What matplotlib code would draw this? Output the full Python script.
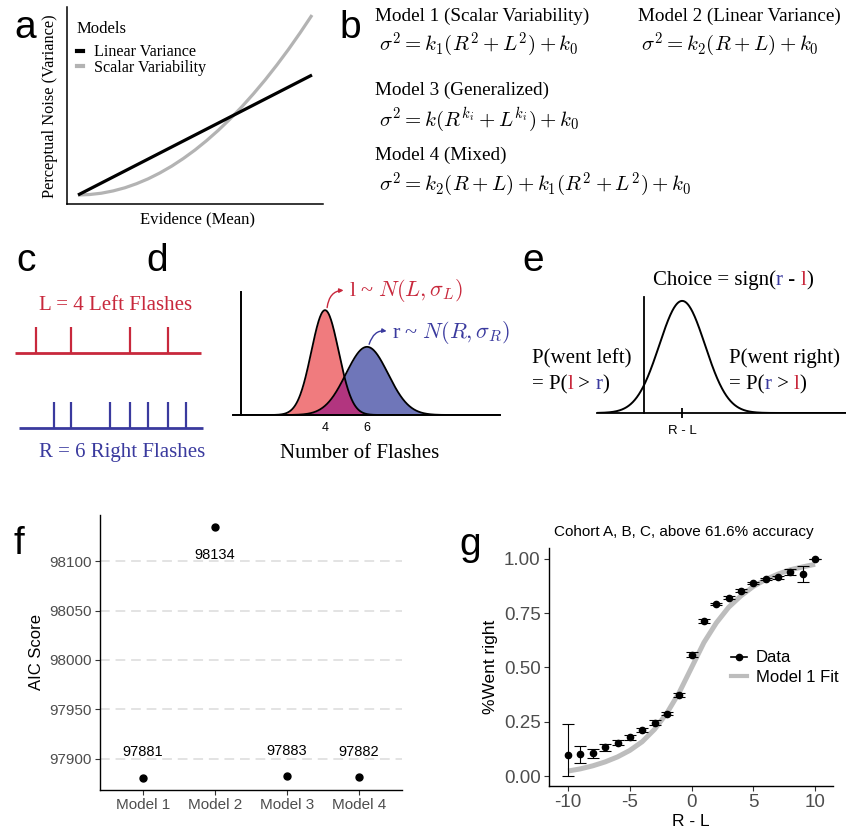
import numpy as np
import matplotlib.pyplot as plt
from matplotlib.lines import Line2D

plt.rcParams['mathtext.fontset'] = 'cm'
plt.rcParams['axes.unicode_minus'] = False
SERIF = 'Liberation Serif'
SANS = 'Liberation Sans'
RED = '#c8283c'
BLUE = '#3a3a9e'
GREY30 = '#4d4d4d'

W, H = 846, 832

# a - noise vs evidence (schematic)
evidence = [0.0, 0.05, 0.1, 0.15, 0.2, 0.25, 0.3, 0.35, 0.4, 0.45, 0.5,
            0.55, 0.6, 0.65, 0.7, 0.75, 0.8, 0.85, 0.9, 0.95, 1.0]
linear_variance = [0.0, 0.05, 0.1, 0.15, 0.2, 0.25, 0.3, 0.35, 0.4, 0.45, 0.5,
                   0.55, 0.6, 0.65, 0.7, 0.75, 0.8, 0.85, 0.9, 0.95, 1.0]
scalar_variability = [0.0, 0.004, 0.015, 0.034, 0.06, 0.094, 0.135, 0.184, 0.24, 0.304, 0.375,
                      0.454, 0.54, 0.634, 0.735, 0.844, 0.96, 1.084, 1.215, 1.354, 1.5]

# b - model equations
model_titles = ["Model 1 (Scalar Variability)", "Model 2 (Linear Variance)",
                "Model 3 (Generalized)", "Model 4 (Mixed)"]
model_formulas = [r"$\sigma^2 = k_1(R^2 + L^2) + k_0$",
                  r"$\sigma^2 = k_2(R + L) + k_0$",
                  r"$\sigma^2 = k(R^{k_i} + L^{k_i}) + k_0$",
                  r"$\sigma^2 = k_2(R + L) + k_1(R^2 + L^2) + k_0$"]

# c - flash trains (s)
left_flash_times = [0.11, 0.30, 0.615, 0.82]
right_flash_times = [0.21, 0.30, 0.51, 0.615, 0.71, 0.82, 0.915]

# d - perceived counts
flash_means = [4, 6]      # L, R
flash_sds = [0.65, 1.0]

# e - difference
diff_mean = 2
diff_sd = 1.2

# f - AIC
models = ["Model 1", "Model 2", "Model 3", "Model 4"]
aic = [97881, 98134, 97883, 97882]

# g - psychometric
r_minus_l = list(range(-10, 11))
went_right = [0.097, 0.100, 0.104, 0.132, 0.154, 0.178, 0.212, 0.246, 0.287, 0.373, 0.558,
              0.714, 0.793, 0.820, 0.854, 0.888, 0.908, 0.915, 0.939, 0.931, 1.000]
err_low = [0.097, 0.040, 0.021, 0.015, 0.011, 0.010, 0.010, 0.011, 0.008, 0.008, 0.012,
           0.008, 0.006, 0.007, 0.006, 0.006, 0.006, 0.008, 0.012, 0.038, 0.0]
err_high = [0.143, 0.040, 0.021, 0.015, 0.011, 0.010, 0.010, 0.011, 0.008, 0.008, 0.012,
            0.008, 0.006, 0.007, 0.006, 0.006, 0.006, 0.008, 0.012, 0.037, 0.0]
model1_fit = [0.023, 0.033, 0.047, 0.065, 0.088, 0.118, 0.158, 0.215, 0.29, 0.385, 0.5,
              0.615, 0.705, 0.777, 0.83, 0.873, 0.905, 0.93, 0.95, 0.963, 0.975]


def box(l, t, r, b):
    return [l / W, 1 - b / H, (r - l) / W, (b - t) / H]


fig = plt.figure(figsize=(W / 100, H / 100), dpi=100)
ax0 = fig.add_axes([0, 0, 1, 1])
ax0.set_xlim(0, W)
ax0.set_ylim(H, 0)
ax0.axis('off')
ax0.set_zorder(10)


def rainbow(x, y, parts, **kw):
    t = ax0.text(x, y, parts[0][0], color=parts[0][1], va='bottom', ha='left', **kw)
    for s, c in parts[1:]:
        t = ax0.annotate(s, xy=(1, 0), xycoords=t, va='bottom', ha='left', color=c, **kw)


# panel letters
for lab, x, y in [('a', 25, 38), ('b', 350, 38), ('c', 26, 271), ('d', 157, 271),
                  ('e', 533, 271), ('f', 19, 554), ('g', 470, 555)]:
    ax0.text(x, y, lab, ha='center', va='baseline', fontsize=28, family=SANS)

# ---- a
ax_a = fig.add_axes(box(67, 7, 323, 204))
ax_a.plot(evidence, scalar_variability, color='#b3b3b3', lw=2.3, solid_capstyle='butt')
ax_a.plot(evidence, linear_variance, color='black', lw=2.3, solid_capstyle='butt')
ax_a.set_xlim(-0.047, 1.047)
ax_a.set_ylim(-0.075, 1.567)
ax_a.set_xticks([])
ax_a.set_yticks([])
for s in ['top', 'right']:
    ax_a.spines[s].set_visible(False)
for s in ['left', 'bottom']:
    ax_a.spines[s].set_linewidth(1.1)
ax0.text(77, 33, 'Models', family=SERIF, fontsize=12, va='baseline')
ax_a.legend([Line2D([], [], color='black', lw=3), Line2D([], [], color='#b3b3b3', lw=3)],
            ['Linear Variance', 'Scalar Variability'],
            loc='upper left', bbox_to_anchor=(0.04, 0.81), frameon=False,
            handlelength=0.35, handletextpad=0.7, labelspacing=-0.05,
            borderpad=0, borderaxespad=0,
            prop={'family': SERIF, 'size': 11.6})
ax0.text(197, 219, 'Evidence (Mean)', ha='center', va='center', family=SERIF, fontsize=12)
ax0.text(50, 106, 'Perceptual Noise (Variance)', ha='center', va='center', rotation=90,
         family=SERIF, fontsize=11.8)

# ---- b
b_pos = [(375, 21, 379, 51), (638, 21, 641, 51), (375, 95, 379, 126), (375, 160, 379, 191)]
for title, formula, (tx, ty, fx, fy) in zip(model_titles, model_formulas, b_pos):
    ax0.text(tx, ty, title, family=SERIF, fontsize=13.8, va='baseline')
    ax0.text(fx, fy, formula, fontsize=15, va='baseline')

# ---- c
ax_c = fig.add_axes(box(0, 290, 230, 470))
ax_c.axis('off')
ax_c.set_xlim(-15 / 187, 215 / 187)
ax_c.set_ylim(-0.56, 1.84)
ax_c.hlines(1, 0, 0.995, color=RED, lw=2)
ax_c.vlines(left_flash_times, 1, 1.35, color=RED, lw=1.6)
ax_c.hlines(0, 0.02, 1.005, color=BLUE, lw=2)
ax_c.vlines(right_flash_times, 0, 0.35, color=BLUE, lw=1.6)
ax0.text(39, 305, 'L = 4 Left Flashes', color=RED, family=SERIF, fontsize=15, va='center')
ax0.text(39, 453, 'R = 6 Right Flashes', color=BLUE, family=SERIF, fontsize=15, va='center')

# ---- d
ax_d = fig.add_axes(box(233, 292, 500, 415))
xs = np.linspace(-0.38, 12.33, 600)
pdf_l = np.exp(-0.5 * ((xs - flash_means[0]) / flash_sds[0]) ** 2) / (flash_sds[0] * np.sqrt(2 * np.pi))
pdf_r = np.exp(-0.5 * ((xs - flash_means[1]) / flash_sds[1]) ** 2) / (flash_sds[1] * np.sqrt(2 * np.pi))
ax_d.fill_between(xs, 0, pdf_r, color='#6f76b9', lw=0)
ax_d.fill_between(xs, 0, pdf_l, color='#f07b7e', lw=0)
ax_d.fill_between(xs, 0, np.minimum(pdf_l, pdf_r), color='#b2357f', lw=0)
ax_d.plot(xs, pdf_r, color='black', lw=1.3)
ax_d.plot(xs, pdf_l, color='black', lw=1.3)
ax_d.set_xlim(-0.38, 12.33)
ax_d.set_ylim(0, 0.72)
ax_d.spines['left'].set_position(('data', 0))
for s in ['top', 'right']:
    ax_d.spines[s].set_visible(False)
for s in ['left', 'bottom']:
    ax_d.spines[s].set_linewidth(1.4)
ax_d.set_yticks([])
ax_d.set_xticks(flash_means)
ax_d.tick_params(axis='x', length=0, pad=5, labelsize=9)
for lbl in ax_d.get_xticklabels():
    lbl.set_family(SANS)
d_labels = [(r"l ~ $N(L,\sigma_L)$", RED, (22, 17)), (r"r ~ $N(R,\sigma_R)$", BLUE, (23, 12))]
for (txt, col, off), m, sd in zip(d_labels, flash_means, flash_sds):
    peak = 1 / (sd * np.sqrt(2 * np.pi))
    ax_d.annotate(txt, xy=(m + 0.1, peak + 0.015), xytext=off, textcoords='offset pixels',
                  ha='left', va='center', color=col, family=SERIF, fontsize=16,
                  annotation_clip=False,
                  arrowprops=dict(arrowstyle='<|-', color=col, lw=1, mutation_scale=6,
                                  shrinkA=2, shrinkB=0, relpos=(0, 0.5),
                                  connectionstyle='arc3,rad=0.5'))
ax0.text(360, 453, 'Number of Flashes', ha='center', va='center', family=SERIF, fontsize=15)

# ---- e
ax_e = fig.add_axes(box(597, 297, 846, 413))
xe = np.linspace(-2.47, 10.6, 600)
ax_e.plot(xe, np.exp(-0.5 * ((xe - diff_mean) / diff_sd) ** 2) / (diff_sd * np.sqrt(2 * np.pi)),
          color='black', lw=1.4)
ax_e.set_xlim(-2.47, 10.6)
ax_e.set_ylim(0, 0.344)
ax_e.spines['left'].set_position(('data', 0))
for s in ['top', 'right']:
    ax_e.spines[s].set_visible(False)
for s in ['left', 'bottom']:
    ax_e.spines[s].set_linewidth(1.3)
ax_e.set_yticks([])
ax_e.set_xticks([diff_mean])
ax_e.set_xticklabels(['R - L'], family=SANS, fontsize=9.5)
ax_e.tick_params(axis='x', direction='inout', length=7, width=1.3, pad=5)
rainbow(653, 290, [('Choice = sign(', 'black'), ('r', BLUE), (' - ', 'black'), ('l', RED),
                   (')', 'black')], family=SERIF, fontsize=15)
ax0.text(532, 368, 'P(went left)', va='bottom', family=SERIF, fontsize=15)
rainbow(532, 394, [('= P(', 'black'), ('l', RED), (' > ', 'black'), ('r', BLUE), (')', 'black')],
        family=SERIF, fontsize=15)
ax0.text(729, 368, 'P(went right)', va='bottom', family=SERIF, fontsize=15)
rainbow(729, 394, [('= P(', 'black'), ('r', BLUE), (' > ', 'black'), ('l', RED), (')', 'black')],
        family=SERIF, fontsize=15)

# ---- f
ax_f = fig.add_axes(box(100, 515, 402, 790))
xpos = np.arange(1, len(models) + 1)
for yv in [97900, 97950, 98000, 98050, 98100]:
    ax_f.axhline(yv, color='#e3e3e3', lw=1.4, dashes=(5, 3), zorder=0)
ax_f.plot(xpos, aic, 'o', color='black', ms=5)
for xp, v in zip(xpos, aic):
    off = -28 if v == max(aic) else 25
    ax_f.annotate(str(v), xy=(xp, v), xytext=(0, off), textcoords='offset pixels',
                  ha='center', va='center', family=SANS, fontsize=10.5)
ax_f.set_xlim(0.4, 4.6)
ax_f.set_ylim(97868.35, 98146.65)
ax_f.set_xticks(xpos)
ax_f.set_xticklabels(models)
ax_f.set_yticks([97900, 97950, 98000, 98050, 98100])
ax_f.set_yticklabels(['97900', '97950', '98000', '98050', '98100'])
ax_f.tick_params(length=3.5, width=0.8, color='#333333', labelcolor=GREY30, labelsize=11, pad=2.5)
for lbl in ax_f.get_xticklabels() + ax_f.get_yticklabels():
    lbl.set_family(SANS)
for s in ['top', 'right']:
    ax_f.spines[s].set_visible(False)
for s in ['left', 'bottom']:
    ax_f.spines[s].set_linewidth(1.0)
ax_f.set_ylabel('AIC Score', family=SANS, fontsize=12, labelpad=4)

# ---- g
ax_g = fig.add_axes(box(549, 548, 833, 786))
ax_g.plot(r_minus_l, model1_fit, color='#bdbdbd', lw=3.6, solid_capstyle='butt', zorder=1)
ax_g.errorbar(r_minus_l, went_right, yerr=[err_low, err_high], fmt='o', color='black', ms=4.5,
              elinewidth=0.8, capsize=4.4, capthick=0.8, zorder=2)
ax_g.set_xlim(-11.55, 11.45)
ax_g.set_ylim(-0.046, 1.05)
ax_g.set_xticks([-10, -5, 0, 5, 10])
ax_g.set_yticks([0, 0.25, 0.5, 0.75, 1.0])
ax_g.set_yticklabels(['0.00', '0.25', '0.50', '0.75', '1.00'])
ax_g.tick_params(length=3.5, width=0.8, color='#333333', labelcolor=GREY30, labelsize=13.5, pad=2.5)
for lbl in ax_g.get_xticklabels() + ax_g.get_yticklabels():
    lbl.set_family(SANS)
for s in ['top', 'right']:
    ax_g.spines[s].set_visible(False)
for s in ['left', 'bottom']:
    ax_g.spines[s].set_linewidth(1.0)
ax_g.set_xlabel('R - L', family=SANS, fontsize=12.5, labelpad=2)
ax_g.set_ylabel('%Went right', family=SANS, fontsize=12.5, labelpad=4)
ax0.text(684, 532, 'Cohort A, B, C, above 61.6% accuracy', ha='center', va='center',
         family=SANS, fontsize=11)
ax_g.legend([Line2D([], [], color='black', lw=1.2, marker='o', ms=4.5),
             Line2D([], [], color='#bdbdbd', lw=3)], ['Data', 'Model 1 Fit'],
            loc='center left', bbox_to_anchor=(0.64, 0.498), frameon=False,
            handlelength=1.0, handletextpad=0.5, labelspacing=0.25,
            borderpad=0, borderaxespad=0,
            prop={'family': SANS, 'size': 12})

fig.savefig('out.png', dpi=100)
